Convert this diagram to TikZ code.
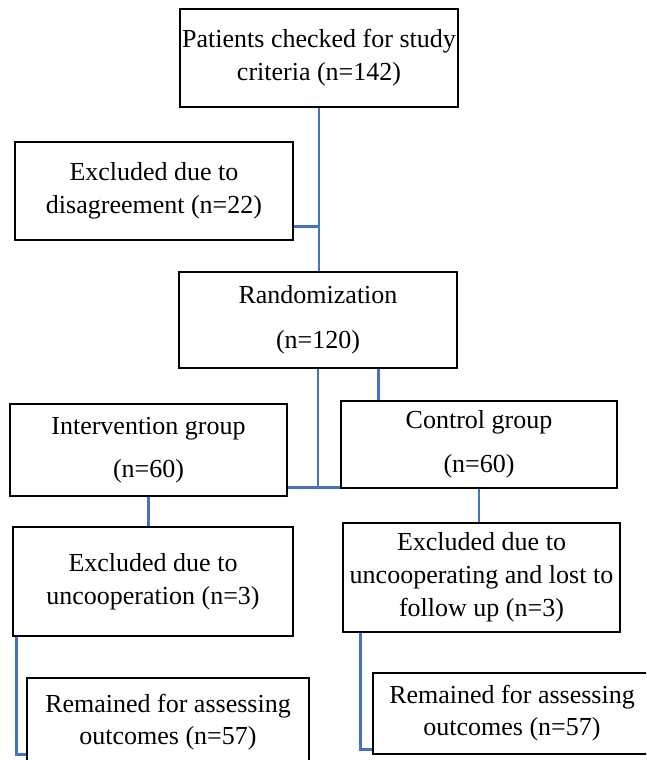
\documentclass[tikz,border=0pt]{standalone}
\usepackage{fontspec}
\setmainfont{Liberation Serif}
\usetikzlibrary{calc}
\definecolor{linkblue}{RGB}{68,114,196}
\tikzset{
  box/.style={draw=black, line width=2.8pt, align=center, inner sep=0pt,
    font=\fontsize{26}{33}\selectfont},
  link/.style={draw=linkblue, line width=2.4pt}
}
\begin{document}
\begin{tikzpicture}[x=1pt,y=-1pt]
\clip (0,0) rectangle (646,760);
\node[box, minimum width=278, minimum height=98] (b1) at (319,58)
  {Patients checked for study\\criteria (n=142)};
\node[box, minimum width=278, minimum height=98] (b2) at (154,191)
  {Excluded due to\\disagreement (n=22)};
\node[box, minimum width=278, minimum height=96] (b3) at (318,320)
  {Randomization\\[12pt](n=120)};
\node[box, minimum width=277, minimum height=92] (int) at (148.5,450)
  {Intervention group\\[10pt](n=60)};
\node[box, minimum width=276, minimum height=87] (ctl) at (479,444.5)
  {Control group\\[11pt](n=60)};
\node[box, minimum width=280, minimum height=109] (ex1) at (153,581.5)
  {Excluded due to\\uncooperation (n=3)};
\node[box, minimum width=277, minimum height=109] (ex2) at (481.5,577.5)
  {Excluded due to\\uncooperating and lost to\\follow up (n=3)};
\node[box, minimum width=282, minimum height=89] (r1) at (168,722.5)
  {Remained for assessing\\[-1pt]outcomes (n=57)};
\node[box, minimum width=278, minimum height=81] (r2) at (512,713.5)
  {Remained for assessing\\[-1pt]outcomes (n=57)};
% connector anchor points
\coordinate (b2r) at ($(b2.south east)+(0,-15)$);
\coordinate (tr) at (b2r -| b1.south);
\coordinate (j) at ($(b3.south)+(0,118)$);
\coordinate (b3r) at ($(b3.south east)+(-80,0)$);
\coordinate (ctltop) at (b3r |- ctl.north);
\coordinate (ex1d) at ($(ex1.south west)+(5,0)$);
\coordinate (r1in) at ($(r1.south west)+(0,-14)$);
\coordinate (ex2d) at ($(ex2.south west)+(19,0)$);
\coordinate (r2in) at ($(r2.south west)+(0,-6)$);
% connectors
\draw[link] (b1.south) -- (b1.south |- b3.north);
\draw[link] (b2r) -- (tr);
\draw[link] (b3.south) -- (j);
\draw[link] (j -| int.east) -- (j -| ctl.west);
\draw[link] (b3r) -- (ctltop);
\draw[link] (int.south) -- (int.south |- ex1.north);
\draw[link] (ctl.south) -- (ctl.south |- ex2.north);
\draw[link] (ex1d) |- (r1in);
\draw[link] (ex2d) |- (r2in);
\end{tikzpicture}
\end{document}
